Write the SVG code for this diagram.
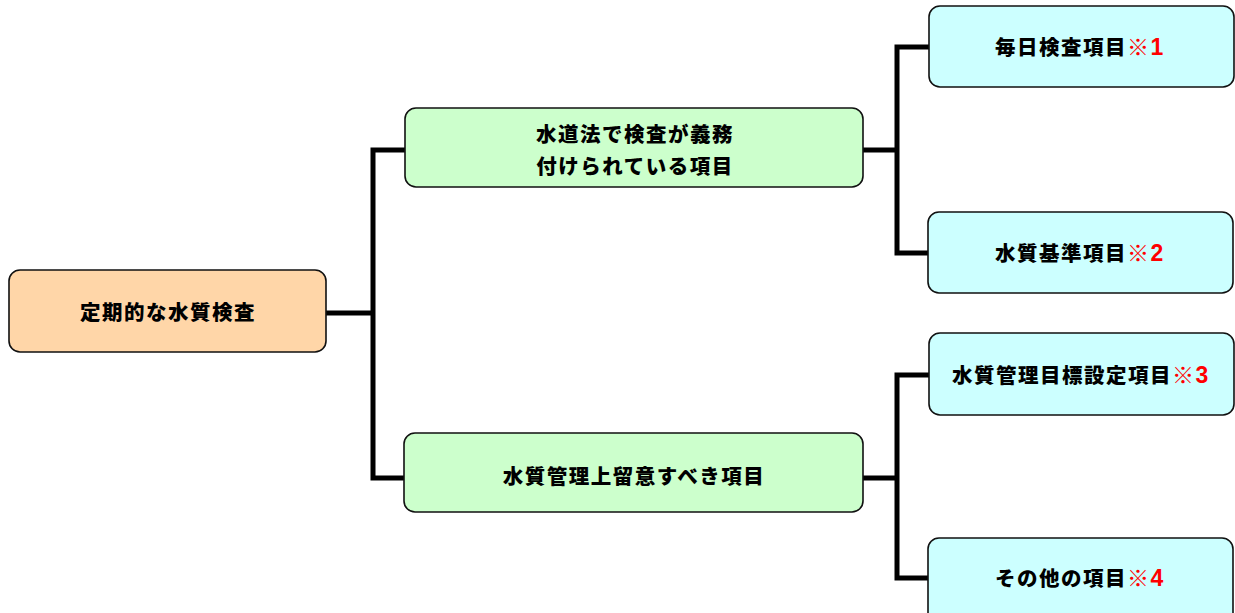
<svg xmlns="http://www.w3.org/2000/svg" width="1235" height="613" viewBox="0 0 1235 613">
<style>
.box{stroke:#111;stroke-width:1.6}
.root{fill:#FFD6A8}
.mid{fill:#CCFFCC}
.leaf{fill:#CCFFFF}
.t{font-family:"Noto Sans CJK JP","Noto Sans",sans-serif;font-weight:900;font-size:20.5px;letter-spacing:1.5px;fill:#000;text-anchor:middle}
.r{fill:#FF0000;font-size:22px}
.d{font-family:"Liberation Sans",Arial,sans-serif;font-weight:bold;font-size:23px}
.c{fill:none;stroke:#000;stroke-width:5;stroke-linejoin:miter}
</style>
<rect width="1235" height="613" fill="#fff"/>
<g id="connectors">
<path class="c" d="M326 313 H373"/>
<path class="c" d="M405 150 H373 V478 H404"/>
<path class="c" d="M863 150 H897"/>
<path class="c" d="M929 47 H897 V253 H929"/>
<path class="c" d="M863 478 H897"/>
<path class="c" d="M929 375 H897 V578 H929"/>
</g>
<g id="root">
<rect class="box root" x="9" y="270" width="317" height="82" rx="11"/>
<text class="t" x="168" y="320">定期的な水質検査</text>
</g>
<g id="mid1">
<rect class="box mid" x="405" y="108" width="458" height="79" rx="11"/>
<text class="t" x="635" y="142">水道法で検査が義務</text>
<text class="t" x="635" y="174">付けられている項目</text>
</g>
<g id="mid2">
<rect class="box mid" x="404" y="433" width="459" height="79" rx="11"/>
<text class="t" x="634" y="484">水質管理上留意すべき項目</text>
</g>
<g id="leaf1">
<rect class="box leaf" x="929" y="6" width="305" height="81" rx="11"/>
<text class="t" x="1080" y="55">毎日検査項目<tspan class="r">※<tspan class="d">1</tspan></tspan></text>
</g>
<g id="leaf2">
<rect class="box leaf" x="928" y="212" width="305" height="81" rx="11"/>
<text class="t" x="1080" y="261">水質基準項目<tspan class="r">※<tspan class="d">2</tspan></tspan></text>
</g>
<g id="leaf3">
<rect class="box leaf" x="929" y="333" width="305" height="82" rx="11"/>
<text class="t" x="1081" y="383">水質管理目標設定項目<tspan class="r">※<tspan class="d">3</tspan></tspan></text>
</g>
<g id="leaf4">
<rect class="box leaf" x="928" y="538" width="305" height="90" rx="11"/>
<text class="t" x="1080" y="586">その他の項目<tspan class="r">※<tspan class="d">4</tspan></tspan></text>
</g>
</svg>
